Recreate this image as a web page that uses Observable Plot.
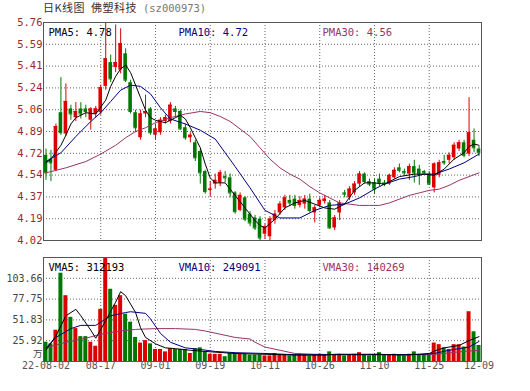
<!DOCTYPE html>
<html><head><meta charset="utf-8">
<script src="https://cdn.jsdelivr.net/npm/d3@7"></script>
<script src="https://cdn.jsdelivr.net/npm/@observablehq/plot@0.6"></script>
<style>
body{margin:0;background:#fff;}
#wrap{position:relative;width:530px;height:391px;overflow:hidden;background:#fff;}
#title{position:absolute;left:43px;top:0px;font:11px "Noto Sans CJK SC";letter-spacing:0.5px;color:#333;white-space:pre;line-height:14px;z-index:2;}
#title .code{font:10.5px "DejaVu Sans Mono";letter-spacing:0;color:#777;}
.p{position:absolute;left:0;}
</style></head><body>
<div id="wrap"><div id="title">日K线图  佛塑科技  <span class="code">(sz000973)</span></div></div>
<script>
// ---- data ----
const dateLabels = ["22-08-02","08-17","09-01","09-19","10-11","10-26","11-10","11-25","12-09"];
const dateLabelIdx = [0,11,22,33,44,55,66,77,87];
const priceTicks = [4.02,4.194,4.368,4.542,4.716,4.89,5.064,5.238,5.412,5.586,5.76];
const volTicks = [25.916,51.832,77.748,103.664];
const volTop = 129.58;

const open  = [4.70,4.67,4.58,5.04,4.87,5.07,5.00,5.07,5.07,4.98,5.03,5.04,5.25,5.44,5.40,5.38,5.51,5.28,5.04,4.84,5.03,5.07,4.86,4.88,4.97,4.97,5.07,5.05,4.92,4.84,
4.80,4.73,4.57,4.42,4.47,4.48,4.53,4.52,4.40,4.26,4.36,4.23,4.20,4.19,4.07,4.05,4.18,4.24,4.28,4.34,4.35,4.30,4.31,4.35,4.24,4.30,4.33,4.32,4.12,4.24,
4.40,4.36,4.40,4.47,4.55,4.49,4.48,4.51,4.48,4.47,4.52,4.60,4.57,4.55,4.61,4.59,4.57,4.55,4.44,4.54,4.65,4.66,4.68,4.75,4.80,4.71,4.82,4.75];
const high  = [4.75,4.74,4.95,5.32,5.27,5.10,5.12,5.12,5.10,5.08,5.09,5.26,5.76,5.50,5.74,5.71,5.55,5.30,5.06,5.06,5.18,5.08,4.95,5.00,5.02,5.12,5.09,5.06,4.95,4.88,
4.82,4.75,4.58,4.49,4.55,4.58,4.57,4.55,4.41,4.40,4.37,4.25,4.22,4.21,4.15,4.21,4.26,4.33,4.38,4.38,4.38,4.37,4.38,4.39,4.30,4.36,4.38,4.34,4.22,4.34,
4.42,4.45,4.49,4.57,4.56,4.51,4.51,4.55,4.50,4.55,4.60,4.63,4.59,4.63,4.66,4.62,4.58,4.57,4.64,4.66,4.70,4.72,4.80,4.82,4.82,5.16,4.91,4.77];
const low   = [4.50,4.49,4.57,4.86,4.85,4.98,4.97,4.99,5.00,4.90,5.00,5.02,5.22,5.28,5.36,5.35,5.28,5.03,4.88,4.82,5.00,4.86,4.82,4.86,4.95,4.95,5.00,4.90,4.82,4.80,
4.65,4.47,4.39,4.37,4.43,4.45,4.48,4.36,4.23,4.25,4.17,4.13,4.10,4.02,4.03,4.02,4.15,4.22,4.26,4.29,4.27,4.28,4.27,4.24,4.16,4.28,4.31,4.11,4.10,4.18,
4.36,4.34,4.38,4.45,4.47,4.45,4.39,4.45,4.45,4.46,4.51,4.56,4.54,4.50,4.48,4.46,4.55,4.46,4.40,4.52,4.62,4.63,4.66,4.73,4.68,4.69,4.72,4.69];
const close = [4.56,4.64,4.93,4.88,5.13,5.03,5.05,5.03,5.05,5.07,5.07,5.24,5.47,5.31,5.44,5.59,5.30,5.05,4.92,5.03,5.05,4.88,4.91,4.98,5.00,5.10,5.05,4.91,4.84,4.86,
4.68,4.56,4.41,4.43,4.50,4.56,4.52,4.40,4.25,4.38,4.19,4.16,4.12,4.04,4.13,4.19,4.23,4.31,4.36,4.32,4.30,4.34,4.35,4.26,4.28,4.34,4.35,4.12,4.20,4.32,
4.39,4.43,4.47,4.55,4.49,4.47,4.43,4.48,4.47,4.54,4.58,4.58,4.56,4.61,4.56,4.55,4.56,4.47,4.63,4.64,4.64,4.70,4.78,4.80,4.70,4.88,4.76,4.72];
// volume, in 万 shares
const volume = [24,22,39,110,82,55,41,31,31,24,19,65,135,90,70,82,59,49,30,23,26,22,15,15,12,16,15,15,15,10,
16,17,12,9,9,9,6,10,10,9,9,8,8,8,7,7,10,8,8,7,8,9,8,7,8,9,8,12,8,9,
7,8,9,11,8,7,8,11,8,8,9,8,7,9,12,8,8,8,23,21,17,15,21,21,18,62,37,20];

// moving-average lines: [day index, value]
const ma5Pts = [[0,4.64],[1,4.67],[3,4.78],[4,4.86],[5,4.95],[6,5.00],[8,5.04],[10,5.03],[12,5.14],[13,5.25],[14,5.33],[15,5.39],[16,5.42],[17,5.36],[18,5.26],[19,5.16],[20,5.06],[21,5.00],[22,4.98],[24,4.96],[26,5.00],[27,5.02],[28,4.99],[29,4.92],[30,4.84],[31,4.76],[32,4.63],[33,4.52],[34,4.48],[36,4.48],[37,4.43],[38,4.38],[40,4.28],[42,4.18],[43,4.14],[44,4.12],[46,4.19],[48,4.28],[50,4.32],[52,4.34],[54,4.31],[56,4.28],[58,4.27],[60,4.31],[62,4.42],[64,4.48],[66,4.48],[68,4.47],[71,4.53],[74,4.55],[76,4.55],[78,4.54],[80,4.59],[82,4.67],[84,4.72],[85,4.77],[86,4.79],[87,4.78]];
const ma10Pts = [[0,4.65],[3,4.72],[6,4.85],[9,4.97],[11,5.04],[13,5.13],[15,5.22],[17,5.26],[19,5.25],[21,5.19],[23,5.08],[25,4.99],[28,4.95],[31,4.90],[34,4.83],[36,4.72],[38,4.61],[41,4.44],[44,4.26],[47,4.20],[51,4.20],[54,4.26],[57,4.30],[60,4.31],[63,4.36],[66,4.43],[68,4.47],[71,4.51],[74,4.53],[76,4.55],[78,4.55],[81,4.59],[84,4.64],[87,4.71]];
const ma30Pts = [[0,4.56],[4,4.60],[8,4.65],[11,4.71],[14,4.78],[16,4.84],[18,4.89],[20,4.92],[22,4.96],[25,5.00],[28,5.03],[31,5.05],[33,5.04],[35,5.01],[37,4.97],[39,4.91],[41,4.85],[43,4.76],[45,4.67],[47,4.60],[49,4.55],[51,4.51],[53,4.45],[55,4.40],[57,4.36],[59,4.32],[61,4.31],[63,4.30],[65,4.30],[67,4.30],[69,4.32],[71,4.35],[73,4.38],[75,4.40],[77,4.42],[79,4.43],[81,4.46],[83,4.50],[85,4.53],[87,4.56]];
const vma5Pts = [[0,14],[2,32],[4,57],[6,65],[7,57],[9,39],[10,29],[12,51],[14,74],[15,87],[16,82],[18,61],[19,42],[20,30],[22,22],[24,17],[26,16],[29,14],[32,12.5],[38,10],[44,9],[50,8],[56,8],[58,9],[63,9],[67,9],[72,8],[75,9],[77,10],[78,13],[80,17],[83,20],[85,26],[87,31]];
const vma10Pts = [[0,17],[2,30],[5,41],[7,45],[10,45],[11,49],[13,57],[16,61],[17,62],[20,60],[21,53],[23,35],[25,24],[28,17],[31,15],[34,12.5],[38,11],[44,10],[50,8.5],[60,8.5],[70,8.5],[76,9],[78,10],[81,14],[83,16],[85,18],[87,25]];
const vma30Pts = [[0,17],[4,24],[8,29],[11,34],[15,38],[18,40],[22,41],[26,41],[30,40],[32,38],[35,34],[38,30],[41,28],[42,24],[44,18],[47,14],[50,10],[54,9],[60,8.5],[70,8.5],[77,8.5],[80,10],[83,12],[87,14]];

const legendP = ["PMA5: 4.78","PMA10: 4.72","PMA30: 4.56"];
const legendV = ["VMA5: 312193","VMA10: 249091","VMA30: 140269"];

// ---- build ----
const N = close.length;
const candles = d3.range(N).map(i => ({i, o: open[i], h: high[i], l: low[i], c: close[i], v: volume[i], up: close[i] >= open[i]}));
const RED = "#dc0000", GREEN = "#007800";
const MA5C = "#000000", MA10C = "#000080", MA30C = "#993366";
const col = d => d.up ? RED : GREEN;
const MONO = "DejaVu Sans Mono";
const gridIdx = dateLabelIdx.slice(1, -1);
const dates = dateLabelIdx.map((i, k) => ({i, t: dateLabels[k]}));
const hw = 0.36;

const gridStyle = {stroke: "#666", strokeOpacity: 1, strokeDasharray: "1,2", strokeWidth: 1};
const legendMarks = (labels, dy) => [
  Plot.text([labels[0]], {frameAnchor: "top-left", dx: 5, dy, lineAnchor: "middle", textAnchor: "start", fill: MA5C, fontFamily: MONO, fontSize: 10.5}),
  Plot.text([labels[1]], {frameAnchor: "top-left", dx: 135, dy, lineAnchor: "middle", textAnchor: "start", fill: MA10C, fontFamily: MONO, fontSize: 10.5}),
  Plot.text([labels[2]], {frameAnchor: "top-left", dx: 279, dy, lineAnchor: "middle", textAnchor: "start", fill: MA30C, fontFamily: MONO, fontSize: 10.5})
];

const price = Plot.plot({
  width: 530, height: 250,
  marginLeft: 43, marginRight: 49, marginTop: 22, marginBottom: 10,
  x: {domain: [-0.5, N - 0.5], axis: null},
  y: {domain: [4.02, 5.76], axis: null},
  style: {background: "transparent", overflow: "visible"},
  marks: [
    Plot.ruleY(priceTicks.slice(1, -1), gridStyle),
    Plot.ruleX(gridIdx, gridStyle),
    Plot.ruleX(candles, {x: "i", y1: "l", y2: "h", stroke: col}),
    Plot.rectY(candles, {x1: d => d.i - hw, x2: d => d.i + hw, y1: d => Math.min(d.o, d.c), y2: d => Math.max(d.o, d.c), fill: col}),
    Plot.ruleY(candles, {y: "c", x1: d => d.i - hw, x2: d => d.i + hw, stroke: col}),
    Plot.line(ma30Pts, {x: d => d[0], y: d => d[1], stroke: MA30C, strokeWidth: 1}),
    Plot.line(ma10Pts, {x: d => d[0], y: d => d[1], stroke: MA10C, strokeWidth: 1}),
    Plot.line(ma5Pts, {x: d => d[0], y: d => d[1], stroke: MA5C, strokeWidth: 1}),
    Plot.frame({stroke: "#555"}),
    Plot.text(priceTicks, {y: d => d, text: d => d.toFixed(2), frameAnchor: "left", dx: -1, textAnchor: "end", fill: "#9a2a2a", fontFamily: MONO, fontSize: 10.5}),
    ...legendMarks(legendP, 10.5)
  ]
});
price.classList.add("p"); price.style.top = "0px";

const vol = Plot.plot({
  width: 530, height: 151,
  marginLeft: 43, marginRight: 49, marginTop: 17, marginBottom: 30,
  x: {domain: [-0.5, N - 0.5], axis: null},
  y: {domain: [0, volTop], axis: null},
  style: {background: "transparent", overflow: "visible"},
  marks: [
    Plot.ruleY(volTicks, gridStyle),
    Plot.ruleX(gridIdx, gridStyle),
    Plot.rectY(candles, {x1: d => d.i - 0.4, x2: d => d.i + 0.4, y1: 0, y2: d => Math.min(d.v, volTop), fill: col}),
    Plot.line(vma30Pts, {x: d => d[0], y: d => d[1], stroke: MA30C, strokeWidth: 1}),
    Plot.line(vma10Pts, {x: d => d[0], y: d => d[1], stroke: MA10C, strokeWidth: 1}),
    Plot.line(vma5Pts, {x: d => d[0], y: d => d[1], stroke: MA5C, strokeWidth: 1}),
    Plot.frame({stroke: "#555"}),
    Plot.text(volTicks, {y: d => d, text: d => d.toFixed(2), frameAnchor: "left", dx: -1, textAnchor: "end", fill: "#444", fontFamily: MONO, fontSize: 10}),
    Plot.text(["万"], {frameAnchor: "bottom-left", dx: -1, dy: -5, textAnchor: "end", fill: "#444", fontFamily: "Noto Sans CJK SC", fontSize: 9.5}),
    Plot.text(dates, {x: "i", text: "t", frameAnchor: "bottom", dy: 7, textAnchor: "middle", fill: "#555", fontFamily: MONO, fontSize: 10}),
    ...legendMarks(legendV, 10)
  ]
});
vol.classList.add("p"); vol.style.top = "240px";

const wrap = document.getElementById("wrap");
wrap.appendChild(price);
wrap.appendChild(vol);
</script>
</body></html>
